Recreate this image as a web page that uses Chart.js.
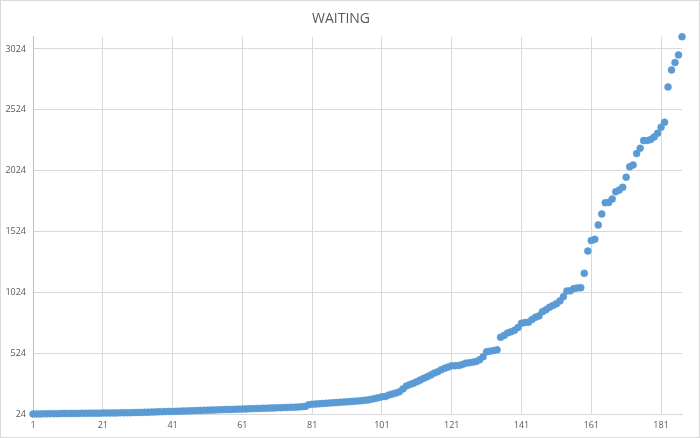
<!DOCTYPE html>
<html>
<head>
<meta charset="utf-8">
<script src="https://cdn.jsdelivr.net/npm/chart.js@4/dist/chart.umd.min.js"></script>
<style>
html,body{margin:0;padding:0;background:#fff;}
#wrap{width:700px;height:438px;position:relative;}
</style>
</head>
<body>
<div id="wrap"><canvas id="c" width="700" height="438"></canvas></div>
<script>
const title = "WAITING";
const waiting = [
  24,25,25,26,26,27,27,27,28,28,
  28,29,29,29,30,30,30,31,31,31,
  32,32,32,33,33,34,34,35,35,36,
  37,37,38,39,40,41,42,43,44,45,
  45,46,47,48,49,50,51,52,53,54,
  55,56,57,58,59,60,61,62,63,64,
  65,66,67,68,69,70,71,72,73,74,
  75,76,77,78,79,80,82,84,86,100,
  104,106,108,110,112,114,116,118,120,122,
  124,126,128,130,133,136,140,145,152,158,
  166,168,180,188,196,207,230,254,266,276,
  290,303,318,331,345,360,372,388,400,410,
  421,421,422,430,441,446,450,456,470,495,
  536,540,545,552,654,670,690,700,712,735,
  770,775,778,800,820,830,865,880,901,915,
  930,953,988,1035,1037,1055,1060,1062,1180,1364,
  1450,1460,1578,1668,1761,1763,1791,1851,1865,1887,
  1970,2057,2071,2164,2208,2271,2271,2280,2300,2331,
  2381,2422,2712,2852,2912,2975,3125
];
const categories = waiting.map((v, i) => i + 1);
const xTicks = [1,21,41,61,81,101,121,141,161,181];
const yTicks = [24,524,1024,1524,2024,2524,3024];

const points = categories.map((c, i) => ({x: c, y: waiting[i]}));

const borderPlugin = {
  id: 'outerBorder',
  afterDraw(chart) {
    const ctx = chart.ctx;
    ctx.save();
    ctx.strokeStyle = '#d9d9d9';
    ctx.lineWidth = 1;
    ctx.strokeRect(0.5, 0.5, chart.width - 1, chart.height - 1);
    ctx.restore();
  }
};

new Chart(document.getElementById('c'), {
  type: 'scatter',
  data: {
    datasets: [{
      label: title,
      data: points,
      backgroundColor: '#5b9bd5',
      borderColor: '#5b9bd5',
      pointRadius: 3.5,
      pointBorderWidth: 0.5,
      pointHoverRadius: 3.5,
      clip: false
    }]
  },
  options: {
    responsive: false,
    animation: false,
    layout: {padding: {left: 0, right: 18, top: 0, bottom: 0}},
    plugins: {
      legend: {display: false},
      tooltip: {enabled: false},
      title: {
        display: true,
        text: title,
        color: '#595959',
        font: {family: 'Open Sans', size: 14, weight: 'normal'},
        padding: {top: 11, bottom: 9}
      }
    },
    scales: {
      x: {
        type: 'linear',
        min: 1,
        max: 187,
        afterBuildTicks(scale) { scale.ticks = xTicks.map(v => ({value: v})); },
        afterFit(scale) { scale.height = 24; },
        grid: {color: '#d9d9d9', lineWidth: 1, drawTicks: false},
        border: {color: '#d9d9d9', width: 1},
        ticks: {
          color: '#595959',
          font: {family: 'Open Sans', size: 9},
          padding: 6,
          maxRotation: 0,
          autoSkip: false,
          callback: (v) => String(v)
        }
      },
      y: {
        type: 'linear',
        min: 24,
        max: 3124,
        afterBuildTicks(scale) { scale.ticks = yTicks.map(v => ({value: v})); },
        afterFit(scale) { scale.width = 33; },
        grid: {color: '#d9d9d9', lineWidth: 1, drawTicks: false},
        border: {color: '#bfbfbf', width: 1},
        ticks: {
          color: '#595959',
          font: {family: 'Open Sans', size: 9},
          padding: 7,
          autoSkip: false,
          callback: (v) => String(v)
        }
      }
    }
  },
  plugins: [borderPlugin]
});
</script>
</body>
</html>
